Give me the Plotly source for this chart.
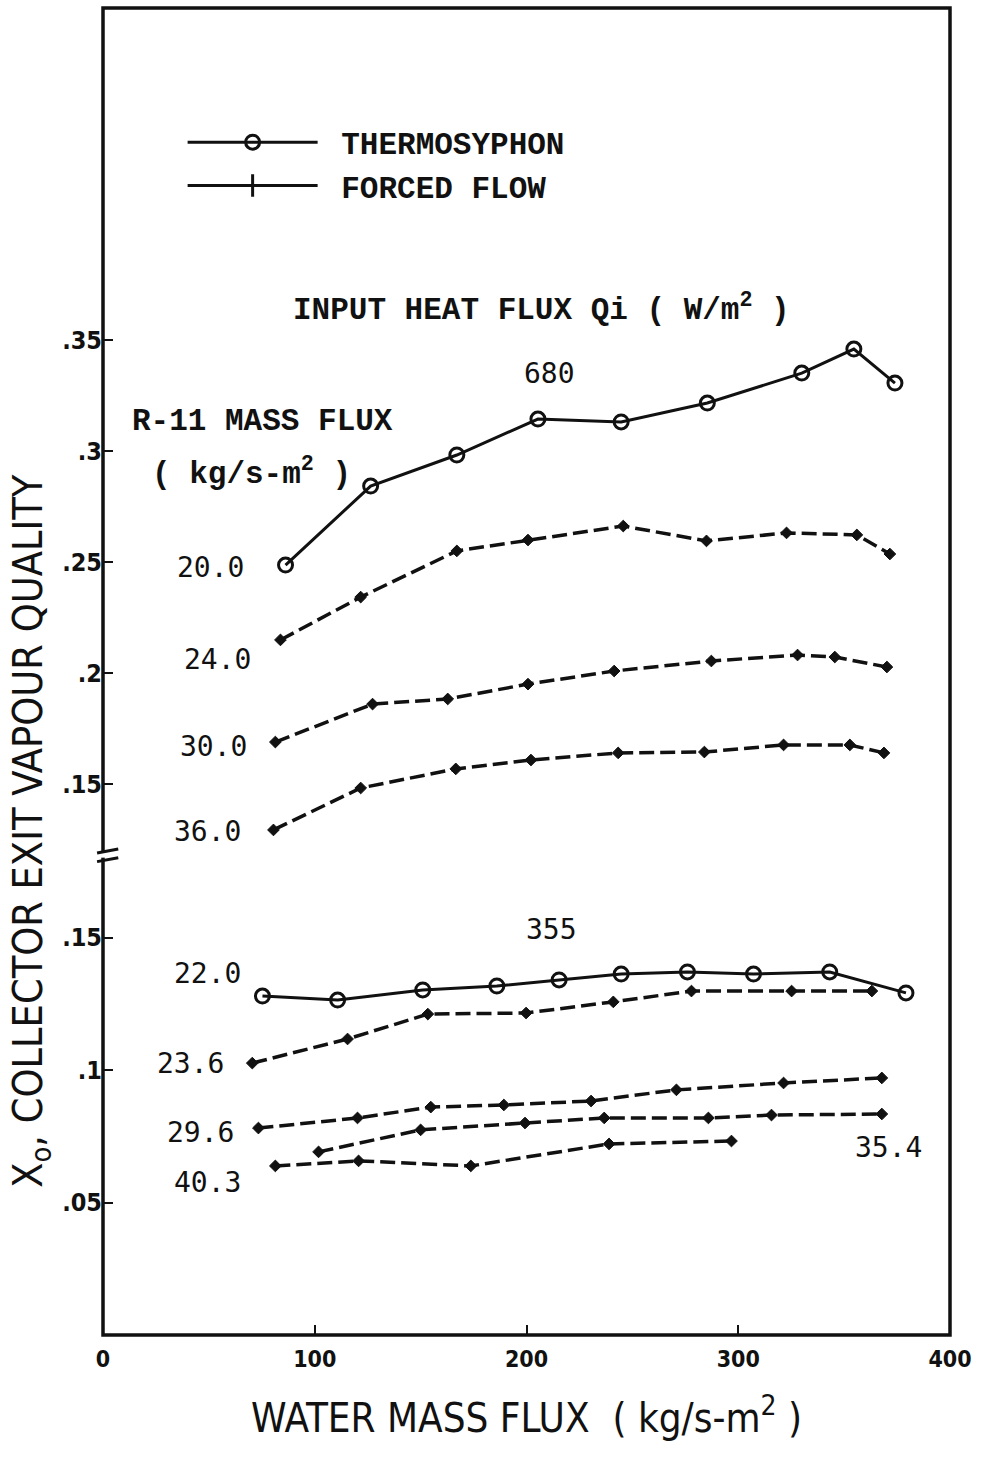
import plotly.graph_objects as go

# ---------------- data ----------------
# Upper panel: input heat flux 680 W/m2
thermo_680_x = [86.2, 126.4, 167.1, 205.4, 244.7, 285.4, 330.0, 354.6, 374.0]
thermo_680_y = [0.2486, 0.2842, 0.2982, 0.3144, 0.3131, 0.3216, 0.3351, 0.3459, 0.3306]

forced_24_x = [83.8, 121.7, 167.1, 200.7, 245.7, 285.0, 322.8, 356.0, 371.6]
forced_24_y = [0.2149, 0.2342, 0.2550, 0.2599, 0.2662, 0.2595, 0.2631, 0.2622, 0.2536]

forced_30_x = [81.4, 127.3, 162.8, 200.7, 241.4, 287.3, 328.0, 345.6, 370.2]
forced_30_y = [0.1689, 0.1860, 0.1883, 0.1950, 0.2009, 0.2054, 0.2081, 0.2072, 0.2027]

forced_36_x = [80.5, 121.7, 166.6, 202.1, 243.3, 284.0, 321.4, 352.7, 368.8]
forced_36_y = [0.1293, 0.1482, 0.1568, 0.1608, 0.1640, 0.1644, 0.1676, 0.1676, 0.1640]

# Lower panel: input heat flux 355 W/m2
thermo_355_x = [75.3, 110.8, 151.0, 186.0, 215.4, 244.7, 276.0, 307.2, 343.2, 379.2]
thermo_355_y = [0.1279, 0.1264, 0.1302, 0.1317, 0.1340, 0.1362, 0.1370, 0.1362, 0.1370, 0.1291]

forced_236_x = [70.5, 115.5, 153.4, 199.8, 241.0, 277.9, 325.2, 363.1]
forced_236_y = [0.1026, 0.1117, 0.1211, 0.1215, 0.1257, 0.1298, 0.1298, 0.1298]

forced_296_x = [73.4, 120.2, 154.8, 189.3, 230.5, 270.8, 321.4, 367.8]
forced_296_y = [0.0781, 0.0819, 0.0860, 0.0868, 0.0883, 0.0925, 0.0951, 0.0970]

forced_354_x = [101.8, 150.0, 199.3, 236.7, 285.9, 315.7, 367.8]
forced_354_y = [0.0691, 0.0774, 0.0800, 0.0819, 0.0819, 0.0830, 0.0834]

forced_403_x = [81.4, 120.7, 173.7, 239.0, 296.8]
forced_403_y = [0.0638, 0.0657, 0.0638, 0.0721, 0.0732]

x_ticks = [0, 100, 200, 300, 400]
x_ticktext = ["0", "100", "200", "300", "400"]
upper_ticks = [0.15, 0.2, 0.25, 0.3, 0.35]
upper_ticktext = [".15", ".2", ".25", ".3", ".35"]
lower_ticks = [0.05, 0.1, 0.15]
lower_ticktext = [".05", ".1", ".15"]

# ---------------- styling ----------------
BLACK = "#111111"
TYPE_FONT = "Liberation Mono"
NUM_FONT = "DejaVu Sans Mono"
AX_FONT = "DejaVu Sans Condensed"

thermo_style = dict(mode="lines+markers",
                    line=dict(color=BLACK, width=3),
                    marker=dict(symbol="circle-open", size=14, color=BLACK,
                                line=dict(color=BLACK, width=3)))
forced_style = dict(mode="lines+markers",
                    line=dict(color=BLACK, width=3.5, dash="15px,6px"),
                    marker=dict(symbol="diamond", size=9, color=BLACK,
                                line=dict(color=BLACK, width=1)))

fig = go.Figure()

upper = [(thermo_680_x, thermo_680_y, "thermo"),
         (forced_24_x, forced_24_y, "forced"),
         (forced_30_x, forced_30_y, "forced"),
         (forced_36_x, forced_36_y, "forced")]
lower = [(thermo_355_x, thermo_355_y, "thermo"),
         (forced_236_x, forced_236_y, "forced"),
         (forced_296_x, forced_296_y, "forced"),
         (forced_354_x, forced_354_y, "forced"),
         (forced_403_x, forced_403_y, "forced")]

for xs, ys, kind in upper:
    st = thermo_style if kind == "thermo" else forced_style
    fig.add_trace(go.Scatter(x=xs, y=ys, xaxis="x", yaxis="y2", showlegend=False, **st))
for xs, ys, kind in lower:
    st = thermo_style if kind == "thermo" else forced_style
    fig.add_trace(go.Scatter(x=xs, y=ys, xaxis="x", yaxis="y", showlegend=False, **st))

# legend entries (solid lines as in the original key)
NB = "\u00a0"
fig.add_trace(go.Scatter(x=[None], y=[None], name=NB + "THERMOSYPHON", mode="lines+markers",
                         line=dict(color=BLACK, width=3),
                         marker=dict(symbol="circle-open", size=14, color=BLACK,
                                     line=dict(color=BLACK, width=3))))
fig.add_trace(go.Scatter(x=[None], y=[None], name=NB + "FORCED FLOW", mode="lines+markers",
                         line=dict(color=BLACK, width=3),
                         marker=dict(symbol="line-ns", size=18, color=BLACK,
                                     line=dict(color=BLACK, width=3))))

split = 480 / 1327

fig.update_layout(
    width=981, height=1458,
    margin=dict(l=103, r=31, t=8, b=123),
    paper_bgcolor="white", plot_bgcolor="white",
    showlegend=True,
    legend=dict(x=0.094, y=0.919, xanchor="left", yanchor="top",
                font=dict(family=TYPE_FONT, size=31, color=BLACK, weight="bold"),
                itemwidth=130, bgcolor="rgba(0,0,0,0)", tracegroupgap=0,
                itemsizing="trace"),
    xaxis=dict(range=[0, 400], tickvals=x_ticks, ticktext=x_ticktext,
               ticks="inside", ticklen=10, tickwidth=2, tickcolor=BLACK,
               showgrid=False, zeroline=False, showline=False,
               tickfont=dict(family=AX_FONT, size=23, color=BLACK, weight="bold"),
               ticklabelstandoff=8,
               anchor="y",
               title=dict(text="WATER MASS FLUX  ( kg/s-m<sup>2</sup> )",
                          font=dict(family=AX_FONT, size=40, color=BLACK),
                          standoff=32)),
    yaxis=dict(domain=[0, split], range=[0, 480 / 2650],
               tickvals=lower_ticks, ticktext=lower_ticktext,
               ticks="inside", ticklen=10, tickwidth=2, tickcolor=BLACK,
               showgrid=False, zeroline=False, showline=False,
               tickfont=dict(family=AX_FONT, size=25, color=BLACK, weight="bold"),
               anchor="x"),
    yaxis2=dict(domain=[split, 1], range=[0.15 - 71 / 2220, 0.35 + 332 / 2220],
                tickvals=upper_ticks, ticktext=upper_ticktext,
                ticks="inside", ticklen=10, tickwidth=2, tickcolor=BLACK,
                showgrid=False, zeroline=False, showline=False,
                tickfont=dict(family=AX_FONT, size=25, color=BLACK, weight="bold"),
                anchor="x"),
)

# frame
fig.add_shape(type="rect", xref="paper", yref="paper", x0=0, x1=1, y0=0, y1=1,
              line=dict(color=BLACK, width=3.5), layer="above")
# axis-break mark on the left axis
gx0, gx1 = -0.007, 0.018
fig.add_shape(type="line", xref="paper", yref="paper", x0=0, x1=0,
              y0=split - 0.002, y1=split + 0.002, line=dict(color="white", width=6), layer="above")
fig.add_shape(type="line", xref="paper", yref="paper", x0=gx0, x1=gx1,
              y0=split + 0.0015, y1=split + 0.0045, line=dict(color=BLACK, width=3), layer="above")
fig.add_shape(type="line", xref="paper", yref="paper", x0=gx0, x1=gx1,
              y0=split - 0.0050, y1=split - 0.0020, line=dict(color=BLACK, width=3), layer="above")

def ann(text, x, y, yref, font, size, xanchor="center", bold=False):
    fig.add_annotation(text=text, x=x, y=y, xref="x", yref=yref, showarrow=False,
                       xanchor=xanchor, yanchor="middle",
                       font=dict(family=font, size=size, color=BLACK,
                                 weight="bold" if bold else "normal"))

ann("INPUT HEAT FLUX Qi ( W/m<sup>2</sup> )", 206.9, 0.3644, "y2", TYPE_FONT, 31, bold=True)
ann("680", 211, 0.3351, "y2", NUM_FONT, 28)
ann("R-11 MASS FLUX", 12.8, 0.3135, "y2", TYPE_FONT, 31, xanchor="left", bold=True)
ann("( kg/s-m<sup>2</sup> )", 22.2, 0.2905, "y2", TYPE_FONT, 31, xanchor="left", bold=True)
ann("20.0", 50.6, 0.2477, "y2", NUM_FONT, 28)
ann("24.0", 54.0, 0.2059, "y2", NUM_FONT, 28)
ann("30.0", 52.0, 0.1671, "y2", NUM_FONT, 28)
ann("36.0", 49.2, 0.1284, "y2", NUM_FONT, 28)
ann("355", 212, 0.1532, "y", NUM_FONT, 28)
ann("22.0", 49.2, 0.1366, "y", NUM_FONT, 28)
ann("23.6", 41.2, 0.1026, "y", NUM_FONT, 28)
ann("29.6", 45.9, 0.0766, "y", NUM_FONT, 28)
ann("40.3", 49.2, 0.0577, "y", NUM_FONT, 28)
ann("35.4", 371.0, 0.0706, "y", NUM_FONT, 28)

fig.add_annotation(text="X<sub>o</sub>, COLLECTOR EXIT VAPOUR QUALITY",
                   x=-0.085, y=0.38, xref="paper", yref="paper", showarrow=False,
                   textangle=-90, xanchor="center", yanchor="middle",
                   font=dict(family=AX_FONT, size=41, color=BLACK))

fig.write_html("out.html")
